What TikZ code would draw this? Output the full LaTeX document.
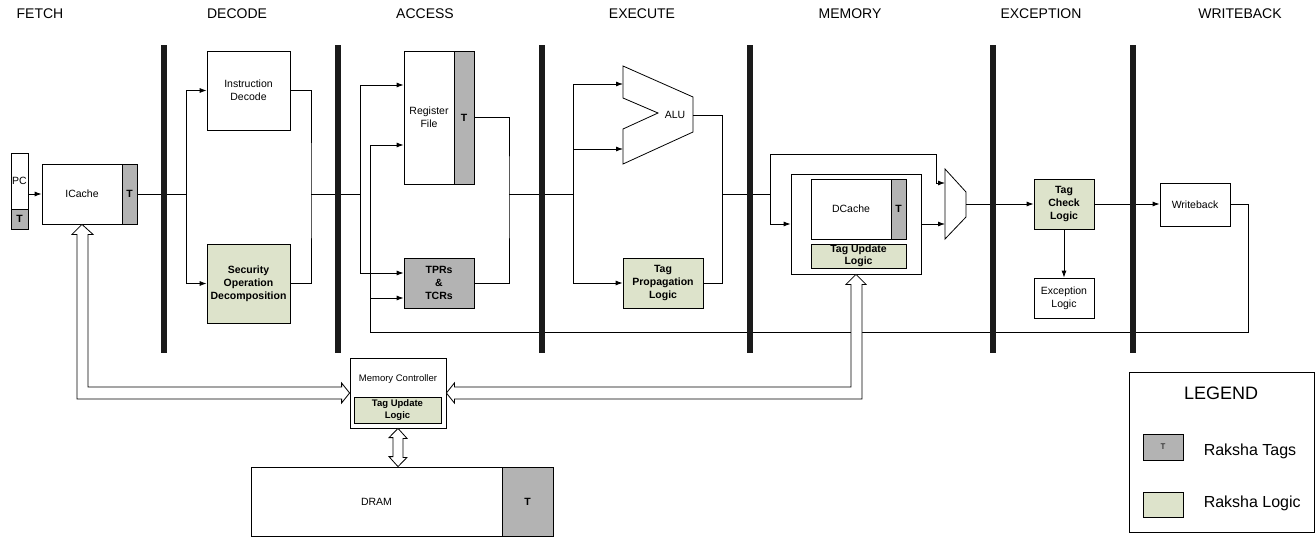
\documentclass[tikz,border=0pt]{standalone}
\usepackage{fontspec}
\setmainfont{Liberation Sans}
\usetikzlibrary{arrows.meta, calc, positioning}
\definecolor{tagGray}{HTML}{B3B3B3}
\definecolor{logicGreen}{HTML}{DDE3CB}
\definecolor{barBlack}{HTML}{1A1A1A}
\tikzset{
    unit/.style={draw, fill=white, inner sep=0pt, align=center, font=\fontsize{10.5}{13}\selectfont},
    tagunit/.style={unit, fill=tagGray, font=\fontsize{10.5}{13}\selectfont\bfseries},
    logicunit/.style={unit, fill=logicGreen, font=\fontsize{10.5}{13}\selectfont\bfseries},
    sig/.style={-{Latex[length=7pt,width=5pt]}},
    hollow/.style={draw, fill=white},
    stage/.style={font=\fontsize{14}{16}\selectfont}
}

\begin{document}
\begin{tikzpicture}[x=1pt, y=-1pt, line width=0.8pt]
    \useasboundingbox (0,0) rectangle (1316,538);
    % stage names
    \foreach \hx/\hname in {40/FETCH, 237/DECODE, 425/ACCESS, 642/EXECUTE, 850/MEMORY, 1041/EXCEPTION, 1240/WRITEBACK}
        \node[stage] (hd-\hname) at (\hx, 14) {\hname};

    % fetch
    \node[unit, minimum width=17pt, minimum height=56pt] (pc) at (19.5, 181) {PC};
    \node[tagunit, minimum width=17pt, minimum height=20pt] (pctag) at (19.5, 219) {T};
    \node[unit, minimum width=80pt, minimum height=60pt] (icache) at (82, 194) {ICache};
    \node[tagunit, minimum width=15pt, minimum height=60pt] (ictag) at (129.5, 194) {T};

    % decode
    \node[unit, minimum width=83pt, minimum height=79pt] (idec) at (248.5, 90.5) {Instruction\\Decode};
    \node[logicunit, minimum width=83pt, minimum height=79pt] (secop) at (248.5, 283.5) {Security\\Operation\\Decomposition};

    % access
    \node[unit, minimum width=50pt, minimum height=133pt] (regfile) at (429, 117.5) {Register\\File};
    \node[tagunit, minimum width=20pt, minimum height=133pt] (rftag) at (464, 117.5) {T};
    \node[tagunit, minimum width=70pt, minimum height=50pt] (tprs) at (439, 283) {TPRs\\\&\\TCRs};

    % execute
    \draw[fill=white] (623,66) -- (693,97) -- (693,132) -- (623,164) -- (623,129) -- (658,113) -- (623,98) -- cycle;
    \node[font=\fontsize{10.5}{13}\selectfont] (alu) at (675, 115) {ALU};
    \node[logicunit, minimum width=80pt, minimum height=50pt] (tagprop) at (663, 283) {Tag\\Propagation\\Logic};

    % memory
    \node[unit, minimum width=130pt, minimum height=100pt] (memunit) at (856, 224) {};
    \node[unit, minimum width=80pt, minimum height=60pt] (dcache) at (851, 209) {DCache};
    \node[tagunit, minimum width=15pt, minimum height=60pt] (dctag) at (898.5, 209) {T};
    \node[logicunit, minimum width=95pt, minimum height=24pt, font=\fontsize{10.5}{12}\selectfont\bfseries] (dcupd) at (858.5, 256) {Tag Update\\Logic};
    \draw[fill=white] (945,169) -- (966,192) -- (966,217) -- (945,239) -- cycle;

    % exception, writeback
    \node[logicunit, minimum width=60pt, minimum height=50pt] (tagchk) at (1064, 204) {Tag\\Check\\Logic};
    \node[unit, minimum width=60pt, minimum height=40pt] (exclogic) at (1064, 298) {Exception\\Logic};
    \node[unit, minimum width=70pt, minimum height=43pt] (wb) at (1195, 204.5) {Writeback};

    % memory system
    \node[unit, minimum width=96pt, minimum height=70pt] (memctl) at (398, 393) {};
    \node[font=\fontsize{9.5}{11}\selectfont] (memctltxt) at (398, 379) {Memory Controller};
    \node[logicunit, minimum width=87pt, minimum height=26pt, font=\fontsize{9.5}{11.5}\selectfont\bfseries] (mcupd) at (397.5, 410) {Tag Update\\Logic};
    \node[unit, minimum width=251pt, minimum height=69pt] (dram) at (376.5, 501.5) {DRAM};
    \node[tagunit, minimum width=51pt, minimum height=69pt] (dramtag) at (527.5, 501.5) {T};

    % junctions
    \coordinate (dsplit) at (186, 194);
    \coordinate (dmerge) at (311, 194);
    \coordinate (asplit) at (360, 194);
    \coordinate (amerge) at (509, 194);
    \coordinate (esplit) at (573, 194);
    \coordinate (emerge) at (722, 194);
    \coordinate (msplit) at (770, 194);
    \coordinate (fbl) at (370, 332);
    \coordinate (rfin1) at ([yshift=32.5pt]regfile.west);
    \coordinate (rfin2) at ([yshift=-27.5pt]regfile.west);
    \coordinate (tpin1) at ([yshift=10pt]tprs.west);
    \coordinate (tpin2) at ([yshift=-15pt]tprs.west);
    \coordinate (aluin1) at (623, 84);
    \coordinate (aluin2) at (623, 149);
    \coordinate (aluout) at (693, 115);
    \coordinate (muxin1) at (945, 183);
    \coordinate (muxin2) at (945, 224);
    \coordinate (muxout) at (966, 204);

    % datapath
    \draw[sig] (pc.east |- icache.west) -- (icache.west);
    \draw (ictag.east) -- (dsplit);
    \draw[sig] (dsplit) |- (idec.west);
    \draw[sig] (dsplit) |- (secop.west);
    \draw (idec.east) -| (dmerge) |- (secop.east);
    \draw (dmerge) -- (asplit);
    \draw[sig] (asplit) |- (rfin1);
    \draw[sig] (asplit) |- (tpin1);
    \draw (rftag.east) -| (amerge) |- (tprs.east);
    \draw (amerge) -- (esplit);
    \draw[sig] (esplit) |- (aluin1);
    \draw[sig] (esplit) |- (aluin2);
    \draw[sig] (esplit) |- (tagprop.west);
    \draw (aluout) -| (emerge) |- (tagprop.east);
    \draw (emerge) -- (msplit);
    \draw[sig] (msplit) |- ++(166,-40) |- (muxin1);
    \draw[sig] (msplit) |- (memunit.west);
    \draw[sig] (memunit.east) -- (muxin2);
    \draw[sig] (muxout) -- (tagchk.west);
    \draw[sig] (tagchk.east) -- (tagchk.east -| wb.west);
    \draw[sig] (tagchk.south) -- (exclogic.north);
    \draw[sig] (wb.east) -- ++(18,0) |- (fbl) |- (rfin2);
    \draw[sig] (fbl |- tpin2) -- (tpin2);

    % wide buses
    \draw[hollow] (icache.south) -- ++(11,10) -- ++(-5,0) |- ($(memctl.west)+(-8,-6)$) -- ++(0,-4)
        -- (memctl.west) -- ++(-8,10) -- ++(0,-4) -| ($(icache.south)+(-5,10)$) -- ++(-5,0) -- cycle;
    \draw[hollow] (memunit.south) -- ++(10,10) -- ++(-4,0) |- ($(memctl.east)+(8,6)$) -- ++(0,4)
        -- (memctl.east) -- ++(8,-10) -- ++(0,4) -| ($(memunit.south)+(-5,10)$) -- ++(-5,0) -- cycle;
    \draw[hollow] (memctl.south) -- ++(9,10) -- ++(-4,0) -- ++(0,19) -- ++(4,0) -- (memctl.south |- dram.north)
        -- ++(-9,-10) -- ++(4,0) -- ++(0,-19) -- ++(-4,0) -- cycle;

    % pipeline registers
    \foreach \bx in {164, 337.5, 541.5, 749.5, 993, 1132.5}
        \fill[barBlack] (\bx-3, 45) rectangle (\bx+3, 353);

    % legend
    \node[draw, minimum width=185pt, minimum height=160pt] (legend) at (1221.5, 452) {};
    \node[font=\fontsize{18}{20}\selectfont] (legtitle) at (1221, 393) {LEGEND};
    \node[unit, fill=tagGray, minimum width=40pt, minimum height=26pt, font=\fontsize{8}{9}\selectfont] (legtag) at (1163, 447) {T};
    \node[anchor=west, font=\fontsize{16}{18}\selectfont] (legtagtxt) at (1200, 451) {Raksha Tags};
    \node[unit, fill=logicGreen, minimum width=40pt, minimum height=25pt] (leglogic) at (1163, 504.5) {};
    \node[anchor=west, font=\fontsize{16}{18}\selectfont] (leglogictxt) at (1200, 503) {Raksha Logic};
\end{tikzpicture}
\end{document}
